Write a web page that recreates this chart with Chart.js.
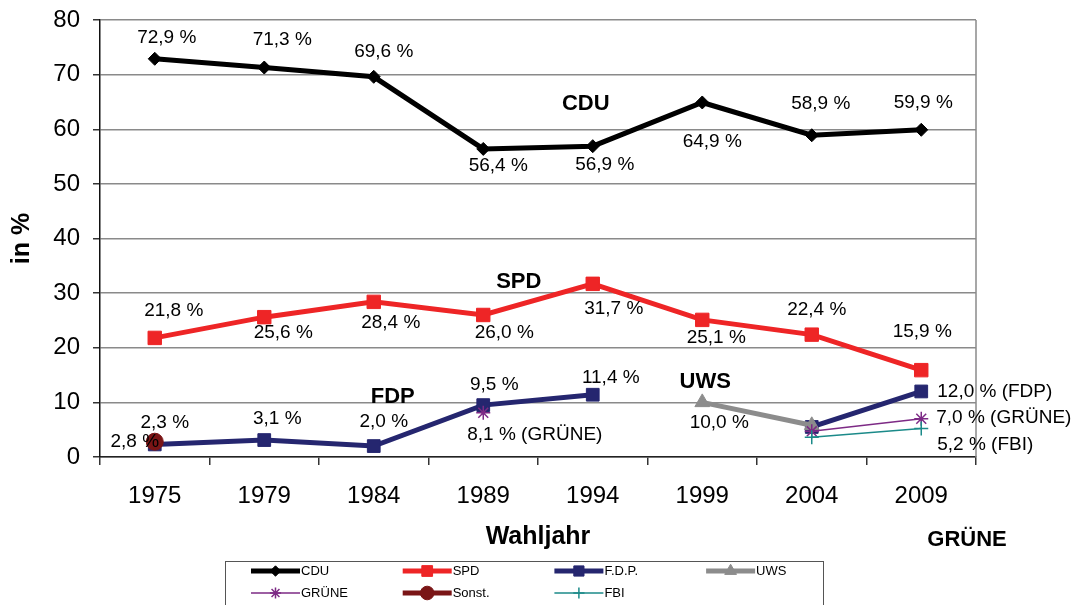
<!DOCTYPE html>
<html lang="de">
<head>
<meta charset="UTF-8">
<title>Wahlergebnisse</title>
<script src="https://cdn.jsdelivr.net/npm/chart.js"></script>
<style>
    body { margin: 0; background: white; }
    #wrap { width: 1090px; height: 605px; position: relative; }
</style>
</head>
<body>
<div id="wrap"><canvas id="chart"></canvas></div>
<script>
    const years = ['1975', '1979', '1984', '1989', '1994', '1999', '2004', '2009'];
    const cdu = [72.9, 71.3, 69.6, 56.4, 56.9, 64.9, 58.9, 59.9];
    const spd = [21.8, 25.6, 28.4, 26.0, 31.7, 25.1, 22.4, 15.9];
    const fdp = [2.3, 3.1, 2.0, 9.5, 11.4, null, 5.5, 12.0];
    const uws = [null, null, null, null, null, 10.0, 5.8, null];
    const gruene = [null, null, null, 8.1, null, null, 4.7, 7.0];
    const sonst = [2.8, null, null, null, null, null, null, null];
    const fbi = [null, null, null, null, null, null, 3.6, 5.2];

    // label placement next to each point: [dx, dy, align, suffix]
    const cduLabelPos = [[12, -21], [18, -28], [10, -25], [15, 17], [12, 19], [10, 39], [9, -31], [2, -27]];
    const spdLabelPos = [[19, -27], [19, 16], [17, 21], [21, 18], [21, 25], [14, 18], [5, -25], [1, -38]];
    const fdpLabelPos = [[10, -22], [13, -21], [10, -24], [11, -20], [18, -17], null, null, [16, 0, 'left', ' (FDP)']];
    const uwsLabelPos = [null, null, null, null, null, [17, 20], null, null];
    const grueneLabelPos = [null, null, null, [-16, 22, 'left', ' (GRÜNE)'], null, null, null, [15, -1, 'left', ' (GRÜNE)']];
    const sonstLabelPos = [[-20, 0], null, null, null, null, null, null, null];
    const fbiLabelPos = [null, null, null, null, null, null, null, [16, 16, 'left', ' (FBI)']];

    const FONT = "'Liberation Sans', Arial, sans-serif";
    const fmt = v => v.toFixed(1).replace('.', ',') + ' %';

    function series(label, data, color, width, style, radius, labelPos, nameTag) {
        return {
            label: label,
            data: data,
            borderColor: color,
            backgroundColor: color,
            borderWidth: width,
            pointStyle: style,
            pointRadius: radius,
            pointBorderWidth: (style === 'star' || style === 'cross') ? 1.5 : 1,
            pointBorderColor: color,
            pointBackgroundColor: color,
            spanGaps: false,
            tension: 0,
            labelPos: labelPos,
            nameTag: nameTag
        };
    }

    const datasets = [
        series('CDU', cdu, '#000000', 5, 'rectRot', 6.5, cduLabelPos, ['CDU', 4, -7, -42]),
        series('SPD', spd, '#ee2526', 5, 'rect', 9.5, spdLabelPos, ['SPD', 4, -74, -2]),
        series('F.D.P.', fdp, '#25266f', 5, 'rect', 9, fdpLabelPos, ['FDP', 2, 19, -49]),
        series('UWS', uws, '#8c8c8c', 5, 'triangle', 8.5, uwsLabelPos, ['UWS', 5, 3, -20]),
        series('GRÜNE', gruene, '#7d2a85', 1.5, 'star', 7, grueneLabelPos, null),
        series('Sonst.', sonst, '#7a1516', 5, 'circle', 8.5, sonstLabelPos, null),
        series('FBI', fbi, '#1b8a89', 1.5, 'cross', 7, fbiLabelPos, null)
    ];
    datasets.forEach((d, i) => { d.order = datasets.length - i; });

    const frame = {
        id: 'frame',
        beforeDatasetsDraw(chart) {
            const {ctx, chartArea} = chart;
            ctx.save();
            ctx.strokeStyle = '#8a8a8a';
            ctx.lineWidth = 1.5;
            ctx.beginPath();
            ctx.moveTo(chartArea.right, chartArea.top);
            ctx.lineTo(chartArea.right, chartArea.bottom);
            ctx.stroke();
            ctx.restore();
        }
    };

    const valueLabels = {
        id: 'valueLabels',
        afterDatasetsDraw(chart) {
            const ctx = chart.ctx;
            ctx.save();
            ctx.fillStyle = '#000';
            ctx.textBaseline = 'middle';
            chart.data.datasets.forEach((ds, i) => {
                const meta = chart.getDatasetMeta(i);
                ds.labelPos.forEach((p, j) => {
                    if (!p || ds.data[j] == null) return;
                    const pt = meta.data[j];
                    ctx.font = '19px ' + FONT;
                    ctx.textAlign = p[2] || 'center';
                    ctx.fillText(fmt(ds.data[j]) + (p[3] || ''), pt.x + p[0], pt.y + p[1]);
                });
                if (ds.nameTag) {
                    const [name, j, dx, dy] = ds.nameTag;
                    const pt = meta.data[j];
                    ctx.font = 'bold 22px ' + FONT;
                    ctx.textAlign = 'center';
                    ctx.fillText(name, pt.x + dx, pt.y + dy);
                }
            });
            // party name under the last category
            const area = chart.chartArea;
            ctx.font = 'bold 22px ' + FONT;
            ctx.textAlign = 'center';
            ctx.fillText('GRÜNE', area.right - 9, area.bottom + 83);
            ctx.restore();
        }
    };

    const boxLegend = {
        id: 'boxLegend',
        afterDraw(chart) {
            const ctx = chart.ctx;
            const left = 225, top = 561, right = 823, colW = 151.7, lineLen = 49;
            const rows = [571, 593];
            ctx.save();
            ctx.strokeStyle = '#555';
            ctx.lineWidth = 1;
            ctx.strokeRect(left + 0.5, top + 0.5, right - left, 60);
            ctx.font = '13px ' + FONT;
            ctx.textBaseline = 'middle';
            ctx.textAlign = 'left';
            chart.data.datasets.forEach((ds, i) => {
                const x = left + 26 + (i % 4) * colW;
                const y = rows[Math.floor(i / 4)];
                ctx.strokeStyle = ds.borderColor;
                ctx.fillStyle = ds.borderColor;
                ctx.lineWidth = ds.borderWidth;
                ctx.beginPath();
                ctx.moveTo(x, y);
                ctx.lineTo(x + lineLen, y);
                ctx.stroke();
                ctx.lineWidth = ds.pointBorderWidth;
                Chart.helpers.drawPoint(ctx, {
                    pointStyle: ds.pointStyle,
                    radius: ds.pointRadius * 0.8,
                    rotation: 0,
                    borderWidth: ds.pointBorderWidth
                }, x + lineLen / 2, y);
                ctx.fillStyle = '#000';
                ctx.fillText(ds.label, x + lineLen + 1, y);
            });
            ctx.restore();
        }
    };

    new Chart(document.getElementById('chart'), {
        type: 'line',
        data: { labels: years, datasets: datasets },
        options: {
            responsive: true,
            maintainAspectRatio: false,
            animation: false,
            layout: { padding: { left: 0, right: 114, top: 20, bottom: 0 } },
            plugins: {
                legend: { display: false },
                tooltip: { enabled: false }
            },
            scales: {
                x: {
                    offset: true,
                    afterFit: s => { s.height = 148; },
                    grid: { offset: true, drawOnChartArea: false, tickLength: 8, tickColor: '#333', lineWidth: 1.5 },
                    border: { color: '#222', width: 1.5 },
                    ticks: { color: '#000', padding: 17, font: { family: FONT, size: 24 } },
                    title: {
                        display: true, text: 'Wahljahr', color: '#000',
                        font: { family: FONT, size: 25, weight: 'bold' },
                        padding: { top: 0, bottom: 53 }
                    }
                },
                y: {
                    min: 0,
                    max: 80,
                    afterFit: s => { s.width = 100; s.paddingTop = 0; },
                    grid: { color: '#8a8a8a', lineWidth: 1.5, tickLength: 7, tickColor: '#333' },
                    border: { color: '#111', width: 1.5 },
                    ticks: { stepSize: 10, color: '#000', padding: 13, font: { family: FONT, size: 24 } },
                    title: {
                        display: true, text: 'in %', color: '#000',
                        font: { family: FONT, size: 25, weight: 'bold' },
                        padding: { top: 7, bottom: 0 }
                    }
                }
            }
        },
        plugins: [frame, valueLabels, boxLegend]
    });
</script>
</body>
</html>
